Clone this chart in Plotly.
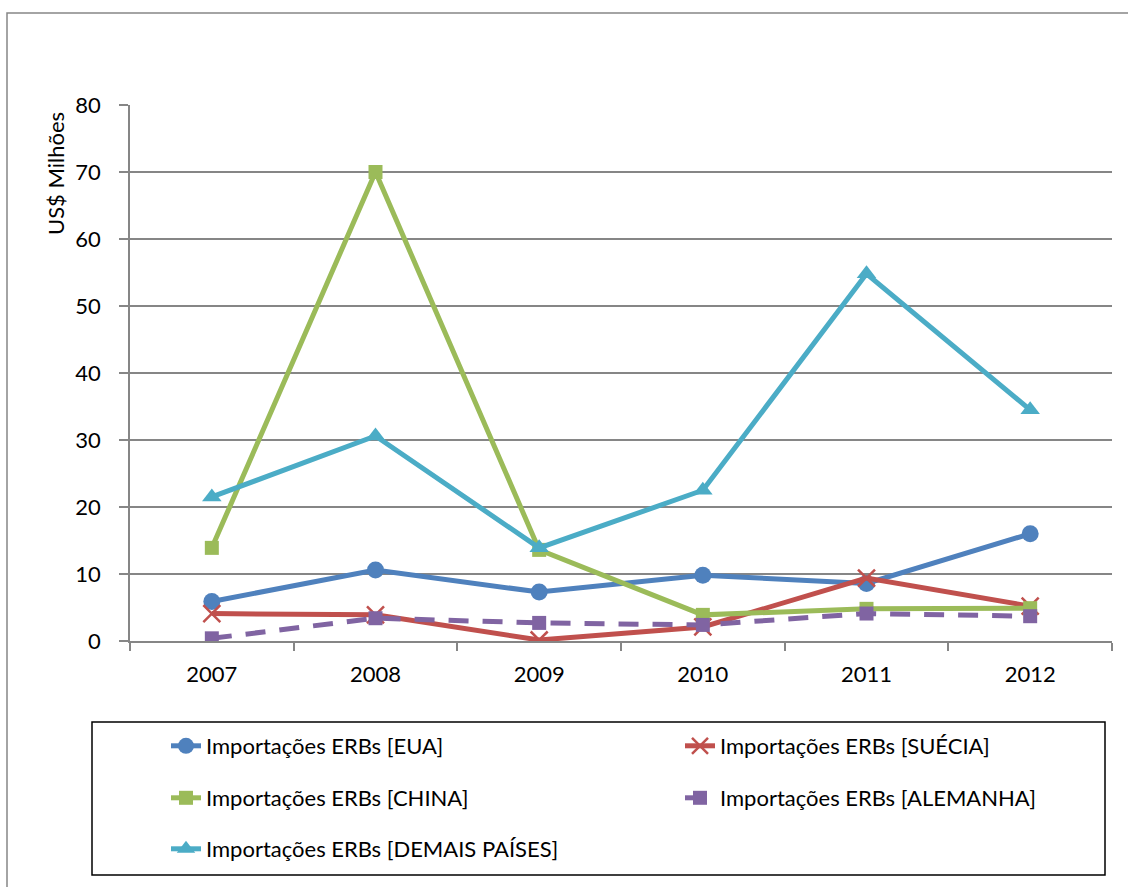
import plotly.graph_objects as go

years = ["2007", "2008", "2009", "2010", "2011", "2012"]
eua = [5.9, 10.6, 7.3, 9.8, 8.6, 16.0]
suecia = [4.1, 3.9, 0.15, 2.1, 9.4, 5.2]
china = [13.9, 70.0, 13.6, 3.9, 4.8, 4.9]
alemanha = [0.4, 3.4, 2.7, 2.4, 4.1, 3.7]
demais = [21.5, 30.6, 13.9, 22.5, 54.8, 34.5]

names = [
    "Importações ERBs [EUA]",
    "Importações ERBs [SUÉCIA]",
    "Importações ERBs [CHINA]",
    "Importações ERBs [ALEMANHA]",
    "Importações ERBs [DEMAIS PAÍSES]",
]

FONT = "Lato"
FS = 22
W, H = 1128, 887
L, R, T, B = 130, 16, 105, 246
PW, PH = W - L - R, H - T - B

def px(x):
    return (x - L) / PW

def py(y):
    return (H - B - y) / PH

# legend item positions (pixel) for each series
leg_pos = [(166, 746), (680, 746), (166, 798), (680, 798), (166, 849)]

fig = go.Figure()
specs = [
    (eua, names[0], "#4F81BD", "circle", 17, "solid"),
    (suecia, names[1], "#C0504D", "x-thin-open", 17, "solid"),
    (china, names[2], "#9BBB59", "square", 14, "solid"),
    (alemanha, names[3], "#8064A2", "square", 14, "20px,14px"),
    (demais, names[4], "#4BACC6", "triangle-up", 17, "solid"),
]
legend_layout = {}
for i, (vals, nm, col, sym, sz, dash) in enumerate(specs):
    lg = "legend" if i == 0 else f"legend{i + 1}"
    mk = dict(symbol=sym, size=sz, color=col)
    if sym == "x-thin-open":
        mk["line"] = dict(color=col, width=2.5)
    fig.add_trace(go.Scatter(
        x=years, y=vals, name=nm, mode="lines+markers",
        line=dict(color=col, width=5, dash=dash),
        marker=mk, legend=lg,
    ))
    lx, ly = leg_pos[i]
    legend_layout[lg] = dict(
        x=px(lx), y=py(ly), xanchor="left", yanchor="middle",
        orientation="h",
        font=dict(family=FONT, size=FS, color="#000000"),
        bgcolor="rgba(0,0,0,0)", borderwidth=0,
    )

fig.update_layout(
    width=W, height=H,
    margin=dict(l=L, r=R, t=T, b=B, autoexpand=False),
    paper_bgcolor="white", plot_bgcolor="white",
    font=dict(family=FONT, size=FS, color="#000000"),
    showlegend=True,
    xaxis=dict(
        type="category", range=[-0.5, 5.5],
        tickson="boundaries", ticks="outside", ticklen=8,
        tickcolor="#868686", tickwidth=1.5,
        showline=True, linecolor="#868686", linewidth=1.5,
        showgrid=False, zeroline=False,
        ticklabelstandoff=13,
        tickfont=dict(family=FONT, size=FS),
    ),
    yaxis=dict(
        range=[0, 80], dtick=10, ticks="outside", ticklen=9,
        tickcolor="#868686", tickwidth=1.5,
        showline=True, linecolor="#868686", linewidth=1.5,
        showgrid=True, gridcolor="#868686", gridwidth=1.5,
        zeroline=False, ticklabelstandoff=14,
        tickfont=dict(family=FONT, size=FS),
    ),
    shapes=[
        dict(type="rect", xref="paper", yref="paper",
             x0=px(92), x1=px(1105), y0=py(875), y1=py(722),
             line=dict(color="#000000", width=1.5)),
        dict(type="rect", xref="paper", yref="paper",
             x0=px(7), x1=px(1140), y0=py(900), y1=py(13),
             line=dict(color="#868686", width=1.5)),
    ],
    annotations=[
        dict(text="US$ Milhões", xref="paper", yref="paper",
             x=px(56), y=py(174), textangle=-90, showarrow=False,
             xanchor="center", yanchor="middle",
             font=dict(family=FONT, size=22, color="#000000")),
    ],
    **legend_layout,
)

fig.write_html("out.html")
